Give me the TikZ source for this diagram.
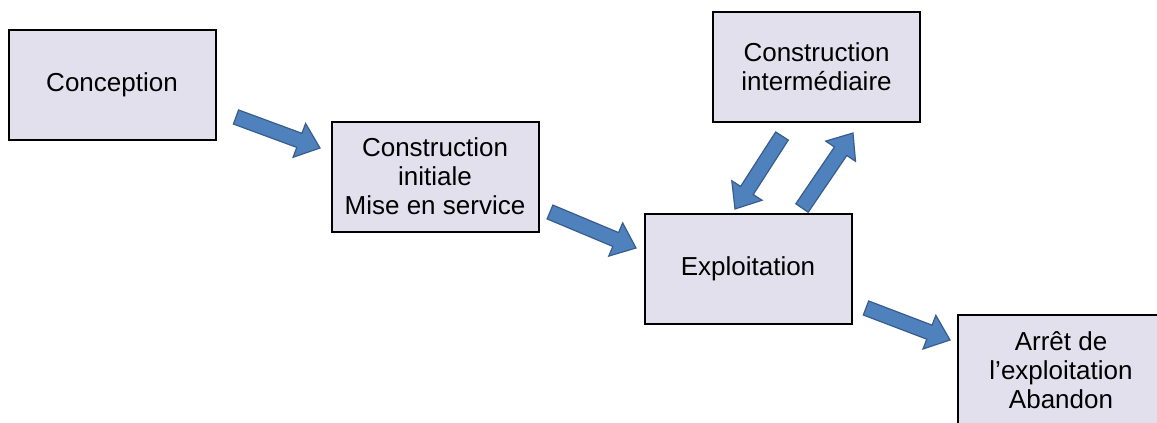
\documentclass[tikz,border=0pt]{standalone}
\usepackage{fontspec}
\setmainfont{Liberation Sans}
\usetikzlibrary{calc}
\definecolor{boxfill}{RGB}{227,224,237}
\definecolor{arrfill}{RGB}{79,129,189}
\definecolor{arrline}{RGB}{56,93,140}
\tikzset{
  stagebox/.style={draw=black, line width=2pt, fill=boxfill, minimum width=207pt, minimum height=110pt, inner sep=0pt, align=center, font=\fontsize{26}{29}\selectfont},
  blockarr/.style={fill=arrfill, draw=arrline, line width=1.2pt, line join=miter}
}
\newcommand{\blockarrow}[2]{%
  \path[blockarr] let \p1=(#1), \p2=(#2), \n1={atan2(\y2-\y1,\x2-\x1)}, \n2={veclen(\x2-\x1,\y2-\y1)} in
    [shift={(\p1)}, rotate=\n1]
    (0pt,-7.5pt) -- (\n2-22pt,-7.5pt) -- (\n2-22pt,-18pt) -- (\n2,0pt) -- (\n2-22pt,18pt) -- (\n2-22pt,7.5pt) -- (0pt,7.5pt) -- cycle;%
}
\begin{document}
\begin{tikzpicture}[x=1pt,y=-1pt]
\useasboundingbox (0,0) rectangle (1157,423);
\fill[white] (0,0) rectangle (1157,423);
\node[stagebox] (conc) at (112,85) {Conception};
\node[stagebox] (init) at (435,176.5) {Construction\\initiale\\Mise en service};
\node[stagebox] (expl) at (748,268.5) {Exploitation};
\node[stagebox] (inter) at (816.5,67) {Construction\\intermédiaire};
\node[stagebox] (arret) at (1061,370) {Arrêt de\\l’exploitation\\Abandon};
\coordinate (a1s) at (236,117);
\coordinate (a1e) at (320,148);
\coordinate (a2s) at (550,212);
\coordinate (a2e) at (636,248);
\coordinate (a3s) at (782,136);
\coordinate (a3e) at (735,209);
\coordinate (a4s) at (802,208);
\coordinate (a4e) at (853,133);
\coordinate (a5s) at (866,308);
\coordinate (a5e) at (950,340);
\blockarrow{a1s}{a1e}
\blockarrow{a2s}{a2e}
\blockarrow{a3s}{a3e}
\blockarrow{a4s}{a4e}
\blockarrow{a5s}{a5e}
\end{tikzpicture}
\end{document}
